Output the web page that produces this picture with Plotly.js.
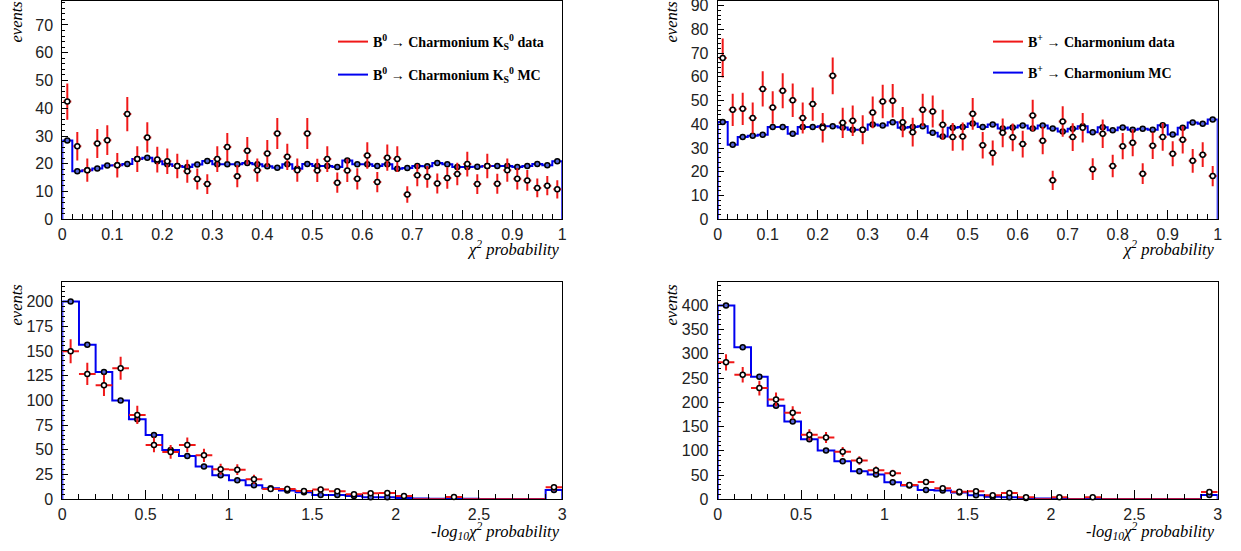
<!DOCTYPE html>
<html><head><meta charset="utf-8">
<script src="https://cdn.plot.ly/plotly-3.0.1.min.js"></script>
<style>html,body{margin:0;padding:0;background:#fff}#chart{width:1241px;height:551px}</style>
</head><body><div id="chart"></div><script>
// ---- data ----
// top panels: chi2 probability, 50 bins from 0 to 1
const probBins = {lo: 0, hi: 1, n: 50};
const b0Data = [42.4,26.3,17.7,27.3,28.5,19.5,37.9,21.7,29.5,21.5,20.9,19.2,17.3,14.5,12.7,21.7,26.0,15.5,24.7,17.7,
                23.7,30.9,22.5,17.7,30.9,17.6,21.7,13.2,17.6,14.6,23.0,13.4,22.2,21.7,8.9,15.9,15.3,12.9,14.9,16.3,
                19.9,12.7,19.2,12.8,17.7,14.6,14.0,11.3,12.1,10.8];
const b0MC = [28.4,17.3,17.7,18.3,19.4,19.5,19.9,21.7,22.2,20.9,19.8,19.2,18.8,19.7,21.0,19.8,19.8,19.8,20.3,19.8,
              19.1,18.6,19.8,18.2,19.9,19.2,19.2,18.8,21.2,19.8,19.8,19.2,19.8,18.2,18.5,19.2,19.1,20.3,19.8,18.8,
              18.8,18.9,19.2,19.2,19.2,18.8,19.2,19.9,19.5,20.9];
const bpData = [67.9,46.1,46.5,42.6,54.9,47.1,54.1,50.1,42.6,48.5,38.5,60.4,40.6,41.5,37.7,45.0,49.6,49.9,40.9,36.7,
                46.1,45.4,39.8,34.7,34.9,44.4,31.2,27.9,36.4,34.5,31.7,43.7,33.1,16.4,41.2,34.6,38.5,21.1,36.0,22.4,
                30.8,32.2,19.2,31.0,34.7,27.6,33.5,24.6,27.2,18.2];
const bpMC = [41.0,31.4,34.6,35.2,35.6,38.9,38.9,36.0,38.9,38.9,39.2,39.2,38.7,37.7,37.7,39.9,39.5,40.9,38.5,38.9,
              39.2,36.4,34.9,38.5,38.9,40.3,38.9,39.9,38.2,38.7,39.5,38.2,39.5,38.2,37.0,38.1,39.2,36.7,38.8,37.5,
              38.7,37.7,38.1,37.7,39.6,35.7,38.5,40.8,40.2,42.0];
// bottom panels: -log10 chi2 probability, 30 bins from 0 to 3
const logBins = {lo: 0, hi: 3, n: 30};
const b0LogData = [149.7,126.8,115.3,132.5,85.3,55.0,47.9,55.0,44.5,30.4,30.0,20.2,10.5,10.5,8.4,9.8,8.1,5.1,6.1,6.4,
                   3.4,0,0,2.4,0,0,0,0,0,12.1];
const b0LogMC = [200,156.2,128.8,99.8,80.9,65.1,49.9,43.8,33.1,24.3,19.2,14.2,11.1,8.8,7.1,4.4,4.4,3.4,2.0,2.0,
                 1.2,0.7,0.5,0.7,0.5,0.3,0.3,0.3,0.2,9.5];
const bpLogData = [282.3,256.8,229.3,205.9,178.3,132.9,127.4,97.8,79.9,59.9,53.7,29.6,35.8,22.7,15.8,16.5,8.3,13.1,4.1,0,
                   4.1,0,4.1,0,0,0,0,0,0,15.1];
const bpLogMC = [399.3,313.3,252.7,192.8,160.4,123.9,100.5,78.5,57.8,50.9,35.1,28.2,19.3,17.9,13.8,8.3,5.5,4.1,2.8,1.4,
                 1.4,0.7,0.7,0.7,0.5,0.5,0.5,0.5,0.7,9.0];
// labels
const legendTexts = [
  '<b>B<sup>0</sup> \u2192 Charmonium K<sub>S</sub><sup>0</sup> data</b>',
  '<b>B<sup>0</sup> \u2192 Charmonium K<sub>S</sub><sup>0</sup> MC</b>',
  '<b>B<sup>+</sup> \u2192 Charmonium data</b>',
  '<b>B<sup>+</sup> \u2192 Charmonium MC</b>'
];
const yTitle = '<i>events</i>';
const xTitleProb = '<i>\u03c7<sup>2</sup> probability</i>';
const xTitleLog = '<i>-log<sub>10</sub>\u03c7<sup>2</sup> probability</i>';

// ---- styling ----
const RED = '#f01818', BLUE = '#0000f0';
const W = 1241, H = 551;

function centers(b){ const w=(b.hi-b.lo)/b.n; return Array.from({length:b.n},(_,i)=>b.lo+(i+0.5)*w); }
function stepXY(b, v){
  const w=(b.hi-b.lo)/b.n; const xs=[b.lo], ys=[0];
  v.forEach((y,i)=>{ xs.push(b.lo+i*w); ys.push(y); });
  xs.push(b.hi); ys.push(v[v.length-1]); xs.push(b.hi); ys.push(0);
  return {xs, ys};
}
function histTraces(xa, ya, b, data, mc, halfw, mcMin){
  const c = centers(b);
  const st = stepXY(b, mc);
  return [
    {x: st.xs, y: st.ys, xaxis: xa, yaxis: ya, mode:'lines', line:{shape:'hv', color:BLUE, width:2},
     showlegend:false, hoverinfo:'skip', cliponaxis:false},
    {x: c, y: mc, xaxis: xa, yaxis: ya, mode:'markers', showlegend:false, cliponaxis:false,
     marker:{symbol:'circle', size:5, color:'#5868d8', opacity: mc.map(v=>v>=mcMin?1:0), line:{color:'#000', width:1.5}}},
    {x: c, y: data, xaxis: xa, yaxis: ya, mode:'markers', showlegend:false, cliponaxis:false,
     marker:{symbol:'circle', size:5, color:'#fff', opacity: data.map(v=>v>0?1:0), line:{color:'#000', width:1.5}},
     error_y:{type:'sqrt', color:RED, thickness:2, width:0},
     error_x:{type:'constant', value:halfw, color:RED, thickness:2, width:0}}
  ];
}
function legendTrace(xa, ya, color, name, lg){
  return {x:[null], y:[null], xaxis:xa, yaxis:ya, mode:'lines', line:{color, width:2}, name, legend:lg, showlegend:true};
}

const traces = [
  ...histTraces('x','y', probBins, b0Data, b0MC, 0.008, 0),
  ...histTraces('x2','y2', probBins, bpData, bpMC, 0.008, 0),
  ...histTraces('x3','y3', logBins, b0LogData, b0LogMC, 0.05, 1.5),
  ...histTraces('x4','y4', logBins, bpLogData, bpLogMC, 0.05, 2),
  legendTrace('x','y', RED, legendTexts[0], 'legend'),
  legendTrace('x','y', BLUE, legendTexts[1], 'legend2'),
  legendTrace('x2','y2', RED, legendTexts[2], 'legend3'),
  legendTrace('x2','y2', BLUE, legendTexts[3], 'legend4')
];

const tickfont = {family:'Liberation Sans, Arial, sans-serif', size:16, color:'#222'};
function xax(domain, range, dtick, minor, anchor){
  return {domain, range, dtick, tick0:0, anchor, showline:true, mirror:true, linecolor:'#000', linewidth:1,
    ticks:'inside', ticklen:9, tickwidth:1, tickcolor:'#000', showgrid:false, zeroline:false,
    minor:{ticks:'inside', ticklen:5, dtick:minor, tick0:0, tickcolor:'#000', showgrid:false},
    tickfont, ticklabeloverflow:'allow', automargin:false, fixedrange:true};
}
function yax(domain, range, dtick, minor, anchor){
  return {domain, range, dtick, tick0:0, anchor, showline:true, mirror:true, linecolor:'#000', linewidth:1,
    ticks:'inside', ticklen:6, tickwidth:1, tickcolor:'#000', showgrid:false, zeroline:false,
    minor:{ticks:'inside', ticklen:3, dtick:minor, tick0:0, tickcolor:'#000', showgrid:false},
    tickfont, ticklabelstandoff:5, ticklabeloverflow:'allow', automargin:false, fixedrange:true};
}
const xL=[62.3/W, 562.3/W], xR=[717.7/W, 1217.7/W];
const yT=[1-219.3/H, 0.999], yB=[1-499.3/H, 1-281.7/H];

function lg(x, y){
  return {x, y, xanchor:'left', yanchor:'middle', bgcolor:'rgba(0,0,0,0)', borderwidth:0,
    font:{family:'Liberation Serif, Times New Roman, serif', size:14, color:'#000'}, itemwidth:30};
}
const titleFont = {family:'Liberation Serif, Times New Roman, serif', size:16.5, color:'#000'};
function ann(text, x, y, xanchor, yanchor, angle){
  return {text, x:x/W, y:1-y/H, xref:'paper', yref:'paper', xanchor, yanchor, showarrow:false,
    textangle:angle||0, font:titleFont};
}

const layout = {
  width:W, height:H, margin:{l:0,r:0,t:0,b:0}, paper_bgcolor:'#fff', plot_bgcolor:'#fff',
  showlegend:true,
  xaxis: xax(xL,[0,1],0.1,0.02,'y'),
  yaxis: yax(yT,[0,78.8],10,2,'x'),
  xaxis2: xax(xR,[0,1],0.1,0.02,'y2'),
  yaxis2: yax(yT,[0,92.1],10,2,'x2'),
  xaxis3: xax(xL,[0,3],0.5,0.1,'y3'),
  yaxis3: yax(yB,[0,220],25,5,'x3'),
  xaxis4: xax(xR,[0,3],0.5,0.1,'y4'),
  yaxis4: yax(yB,[0,448.5],50,10,'x4'),
  legend: lg(333/W, 1-42/H),
  legend2: lg(333/W, 1-75/H),
  legend3: lg(988/W, 1-42/H),
  legend4: lg(988/W, 1-73/H),
  annotations: [
    ann(yTitle, 16, 0, 'center', 'top', -90),
    ann(yTitle, 671, 0, 'center', 'top', -90),
    ann(yTitle, 16, 283, 'center', 'top', -90),
    ann(yTitle, 671, 283, 'center', 'top', -90),
    ann(xTitleProb, 562, 248, 'right', 'middle'),
    ann(xTitleProb, 1217, 248, 'right', 'middle'),
    ann(xTitleLog, 562, 531, 'right', 'middle'),
    ann(xTitleLog, 1217, 531, 'right', 'middle')
  ]
};
Plotly.newPlot('chart', traces, layout, {staticPlot:true, displayModeBar:false});
</script></body></html>
